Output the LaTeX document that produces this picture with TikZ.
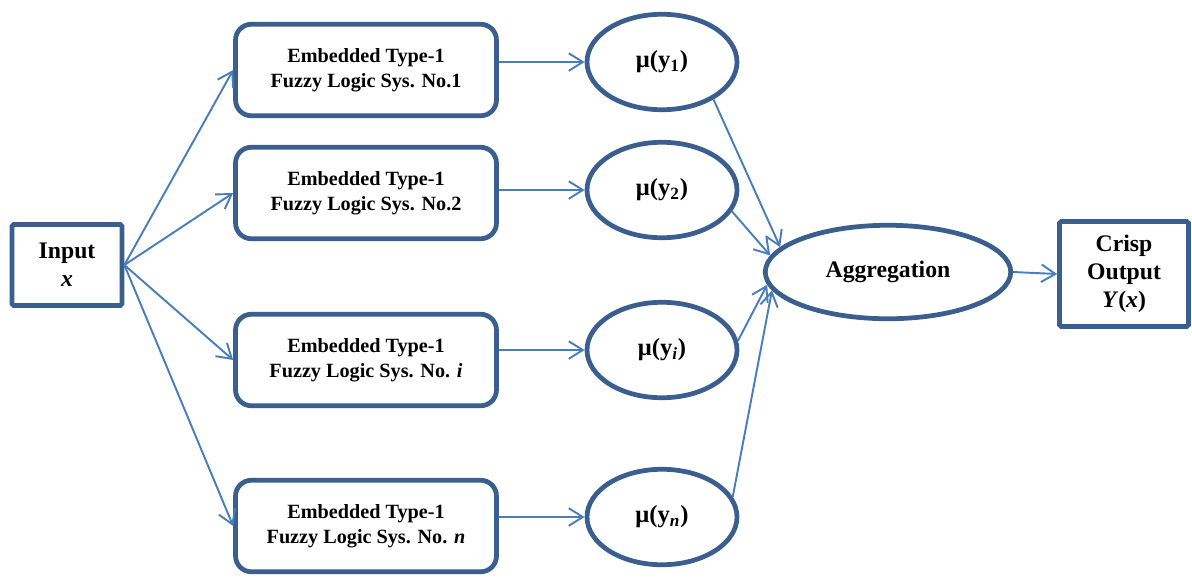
\documentclass[tikz,border=0pt]{standalone}
\usepackage{fontspec}
\setmainfont{Liberation Serif}
\usepackage{xcolor}
\usetikzlibrary{shapes.geometric, arrows.meta}

\definecolor{boxblue}{HTML}{3A5F8E}
\definecolor{lineblue}{HTML}{4A7EBB}

\begin{document}
\begin{tikzpicture}[x=0.02cm, y=-0.02cm,
  fls/.style={draw=boxblue, line width=2.7pt, rounded corners=9pt, minimum width=5.22cm, minimum height=1.83cm, align=center, font=\fontsize{11.5}{14}\selectfont\bfseries},
  io/.style={draw=boxblue, line width=2.7pt, rounded corners=1pt, align=center, font=\fontsize{13.5}{16}\selectfont\bfseries},
  memb/.style={draw=boxblue, line width=2.7pt, ellipse, inner sep=0pt, minimum width=3.0cm, minimum height=1.91cm, font=\fontsize{14}{16}\selectfont\bfseries},
  arrow/.style={-{Straight Barb[length=8pt, width=10pt]}, draw=lineblue, line width=1.1pt}
]
\useasboundingbox (0,0) rectangle (1192,579);

\node[io, minimum width=2.2cm, minimum height=1.62cm] (in) at (67, 265) {Input\\\textit{x}};

\node[fls] (f1) at (366, 70) {Embedded Type-1\\Fuzzy Logic Sys. No.1};
\node[fls] (f2) at (366, 193) {Embedded Type-1\\Fuzzy Logic Sys. No.2};
\node[fls] (fi) at (366, 360) {Embedded Type-1\\Fuzzy Logic Sys. No. \textit{i}};
\node[fls] (fn) at (366, 526) {Embedded Type-1\\Fuzzy Logic Sys. No. \textit{n}};

\draw[arrow] (in.east) -- (f1.west);
\draw[arrow] (in.east) -- (f2.west);
\draw[arrow] (in.east) -- (fi.west);
\draw[arrow] (in.east) -- (fn.west);

\node[memb] (m1) at (662, 62) {μ(y\textsubscript{1})};
\node[memb] (m2) at (662, 190) {μ(y\textsubscript{2})};
\node[memb] (mi) at (662, 350) {μ(y\textsubscript{\textit{i}})};
\node[memb] (mn) at (662, 517) {μ(y\textsubscript{\textit{n}})};

\draw[arrow] (f1.east |- m1) -- (m1.west);
\draw[arrow] (f2.east |- m2) -- (m2.west);
\draw[arrow] (fi.east |- mi) -- (mi.west);
\draw[arrow] (fn.east |- mn) -- (mn.west);

\node[memb, minimum width=4.91cm, minimum height=1.87cm, font=\fontsize{13.5}{16}\selectfont\bfseries] (agg) at (888, 272) {Aggregation};

\draw[arrow] (m1.-36) -- (agg.167);
\draw[arrow] (m2.-17) -- (agg.172);
\draw[arrow] (mi.7) -- (agg.186);
\draw[arrow] (mn.16) -- (agg.189);

\node[io, minimum width=2.58cm, minimum height=2.1cm] (out) at (1124, 274) {Crisp\\Output\\\textit{Y}(\textit{x})};

\draw[arrow] (agg.east) -- (out.west);
\end{tikzpicture}
\end{document}
